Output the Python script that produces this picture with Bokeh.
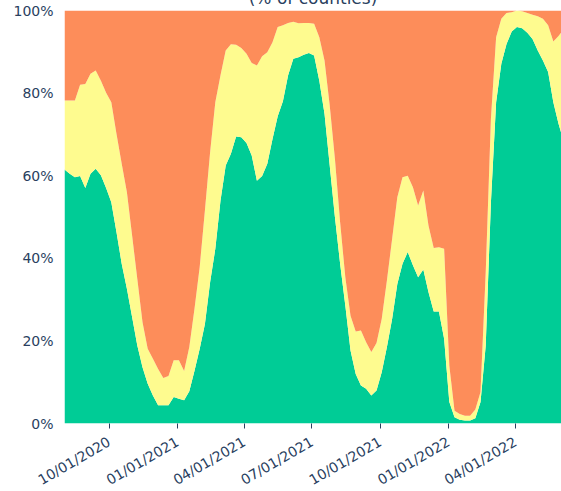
import math
import pandas as pd
from bokeh.plotting import figure
from bokeh.models import ColumnDataSource, Range1d, FixedTicker, PrintfTickFormatter, DatetimeTickFormatter
from bokeh.embed import file_html
from bokeh.resources import INLINE

# weekly observations (percent of counties) + final day
dates = pd.date_range("2020-08-02", periods=96, freq="7D").append(pd.DatetimeIndex(["2022-06-02"]))

green = [61.5, 60.5, 59.6, 59.9, 57.0, 60.5, 61.7, 60.1, 57.0, 53.6,
         46.3, 38.7, 32.6, 25.8, 18.9, 13.6, 9.6, 6.8, 4.4, 4.4,
         4.4, 6.4, 6.0, 5.6, 7.8, 12.8, 18.1, 24.1, 34.2, 42.3,
         54.0, 62.5, 65.3, 69.5, 69.3, 67.9, 64.9, 58.8, 59.9, 62.9,
         68.9, 74.4, 78.0, 84.3, 88.3, 88.7, 89.3, 89.7, 89.1, 83.0,
         75.0, 62.5, 50.0, 38.7, 28.6, 17.7, 12.0, 9.2, 8.4, 6.8,
         8.0, 12.4, 18.5, 25.3, 33.8, 38.7, 41.5, 38.3, 35.4, 37.3,
         31.8, 27.1, 27.1, 20.5, 5.2, 1.5, 0.9, 0.7, 0.7, 1.3,
         5.2, 18.9, 53.6, 77.8, 87.1, 91.9, 94.9, 96.0, 95.7, 94.6,
         93.1, 90.3, 87.9, 85.1, 77.8, 72.6, 70.1]

yellow = [16.7, 17.7, 18.6, 22.1, 25.2, 24.2, 23.8, 22.9, 23.1, 24.2,
          23.8, 24.2, 23.4, 19.7, 16.1, 10.9, 8.5, 8.9, 8.8, 6.6,
          7.1, 8.9, 9.3, 7.1, 10.7, 15.0, 19.8, 27.5, 31.5, 35.5,
          30.3, 27.8, 26.5, 22.2, 21.6, 21.6, 22.4, 27.9, 29.0, 27.0,
          23.4, 21.6, 18.4, 12.7, 9.0, 8.2, 7.7, 7.3, 7.7, 10.5,
          12.9, 14.5, 14.1, 10.0, 6.8, 8.4, 10.3, 13.3, 11.3, 10.5,
          11.5, 12.9, 16.1, 19.4, 21.0, 20.9, 18.5, 18.9, 17.4, 19.1,
          16.1, 15.4, 15.6, 21.8, 8.8, 1.6, 1.4, 1.2, 1.2, 2.1,
          2.4, 17.7, 20.2, 15.7, 10.9, 7.5, 4.7, 4.0, 4.1, 4.8,
          5.9, 8.3, 10.1, 11.3, 14.7, 21.2, 24.7]

orange = [21.8, 21.8, 21.8, 18.0, 17.8, 15.3, 14.5, 17.0, 19.9, 22.2,
          29.9, 37.1, 44.0, 54.5, 65.0, 75.5, 81.9, 84.3, 86.8, 89.0,
          88.5, 84.7, 84.7, 87.3, 81.5, 72.2, 62.1, 48.4, 34.3, 22.2,
          15.7, 9.7, 8.2, 8.3, 9.1, 10.5, 12.7, 13.3, 11.1, 10.1,
          7.7, 4.0, 3.6, 3.0, 2.7, 3.1, 3.0, 3.0, 3.2, 6.5,
          12.1, 23.0, 35.9, 51.3, 64.6, 73.9, 77.7, 77.5, 80.3, 82.7,
          80.5, 74.7, 65.4, 55.3, 45.2, 40.4, 40.0, 42.8, 47.2, 43.6,
          52.1, 57.5, 57.3, 57.7, 86.0, 96.9, 97.7, 98.1, 98.1, 96.6,
          92.4, 63.4, 26.2, 6.5, 2.0, 0.6, 0.4, 0.0, 0.2, 0.6,
          1.0, 1.4, 2.0, 3.6, 7.5, 6.2, 5.2]

tick_dates = ["2020-10-01", "2021-01-01", "2021-04-01", "2021-07-01",
              "2021-10-01", "2022-01-01", "2022-04-01"]
y_ticks = [0, 20, 40, 60, 80, 100]
title_text = "(% of counties)"

colors = ["#00CC96", "#FEFB8F", "#FD8D5A"]
label_color = "#2a3f5f"
font = "DejaVu Sans"

source = ColumnDataSource(dict(date=dates, green=green, yellow=yellow, orange=orange))

p = figure(frame_width=497, frame_height=413, output_backend="svg", toolbar_location=None,
           x_axis_type="datetime", title=title_text,
           x_range=Range1d(dates[0], dates[-1]), y_range=Range1d(0, 100),
           min_border_left=64, min_border_right=0, min_border_top=34, min_border_bottom=0,
           styles={"margin-top": "-24px"})

p.title.align = "center"
p.title.text_font = font
p.title.text_font_size = "17px"
p.title.text_font_style = "normal"
p.title.text_color = label_color
p.title.standoff = 6

p.varea_stack(stackers=["green", "yellow", "orange"], x="date", color=colors, source=source)

p.outline_line_color = None
p.grid.visible = False
p.background_fill_color = "white"

tick_ms = [pd.Timestamp(d).value / 1e6 for d in tick_dates]
xa = p.xaxis[0]
xa.ticker = FixedTicker(ticks=tick_ms)
xa.formatter = DatetimeTickFormatter(days="%m/%d/%Y", months="%m/%d/%Y", years="%m/%d/%Y")
xa.major_label_orientation = math.pi / 6
xa.axis_line_color = None
xa.major_tick_in = 0
xa.major_tick_out = 5
xa.major_tick_line_color = label_color
xa.minor_tick_line_color = None
xa.major_label_text_font = font
xa.major_label_text_font_size = "14px"
xa.major_label_text_color = label_color
xa.major_label_standoff = 12

ya = p.yaxis[0]
ya.ticker = FixedTicker(ticks=y_ticks)
ya.formatter = PrintfTickFormatter(format="%d%%")
ya.axis_line_color = None
ya.major_tick_line_color = None
ya.minor_tick_line_color = None
ya.major_tick_in = 0
ya.major_tick_out = 0
ya.major_label_text_font = font
ya.major_label_text_font_size = "14px"
ya.major_label_text_color = label_color
ya.major_label_standoff = 11

open("out.html", "w").write(file_html(p, INLINE))
